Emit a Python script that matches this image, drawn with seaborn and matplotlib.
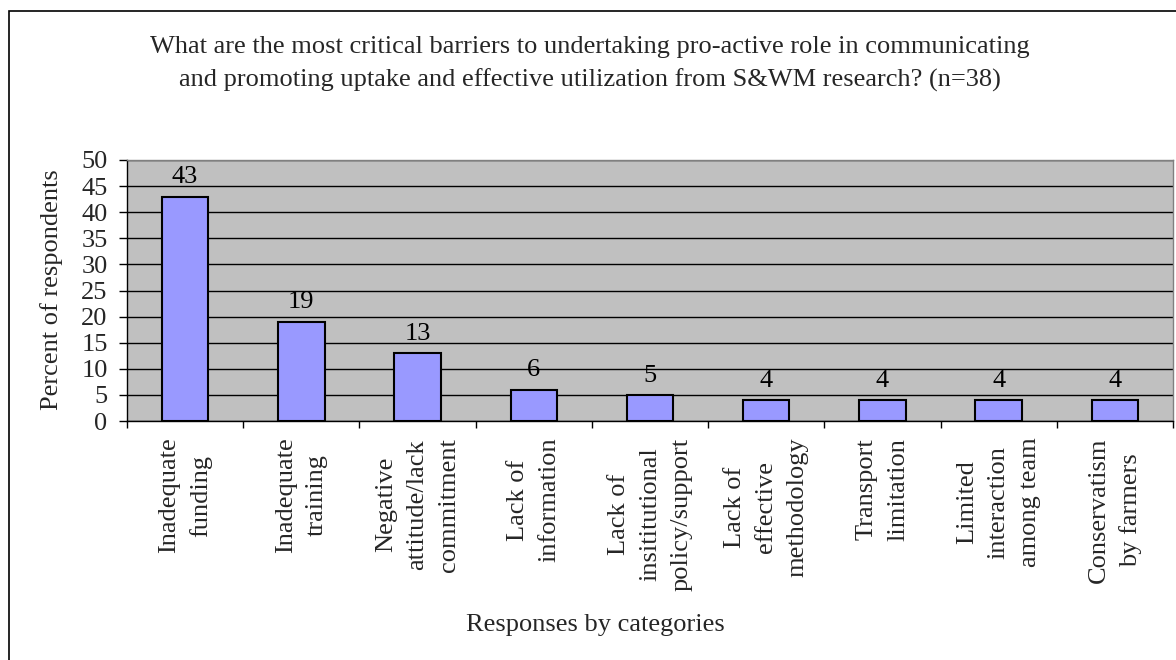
import matplotlib
matplotlib.use("Agg")
import matplotlib.pyplot as plt
import seaborn as sns
from matplotlib.patches import Rectangle
from matplotlib.ticker import MultipleLocator, FixedLocator

# Survey responses (n=38)
categories = [
    "Inadequate\nfunding",
    "Inadequate\ntraining",
    "Negative\nattitude/lack\ncommitment",
    "Lack of\ninformation",
    "Lack of\ninsititutional\npolicy/support",
    "Lack of\neffective\nmethodology",
    "Transport\nlimitation",
    "Limited\ninteraction\namong team",
    "Conservatism\nby farmers",
]
percent = [43, 19, 13, 6, 5, 4, 4, 4, 4]

title = ("What are the most critical barriers to undertaking pro-active role in communicating\n"
         "and promoting uptake and effective utilization from S&WM research? (n=38)")
y_label = "Percent of respondents"
x_label = "Responses by categories"

sns.set_theme(style="white")
plt.rcParams["font.family"] = ["Liberation Serif", "DejaVu Serif"]
FS = 19

W, H = 1176, 660
fig = plt.figure(figsize=(W / 100, H / 100), dpi=100)
fig.patch.set_facecolor("white")

ax = fig.add_axes([127 / W, 1 - 421 / H, (1173 - 127) / W, (421 - 160) / H])
ax.set_facecolor("#C0C0C0")

sns.barplot(x=categories, y=percent, color="#9999FF", edgecolor="black",
            linewidth=1.5, width=0.4, saturation=1, ax=ax, zorder=3)

ax.set_xlim(-0.5, len(categories) - 0.5)
ax.set_ylim(0, 50)
ax.yaxis.set_major_locator(MultipleLocator(5))
ax.yaxis.grid(True, color="black", linewidth=1.0, zorder=1)
ax.set_axisbelow(True)

# value labels above bars
for i, v in enumerate(percent):
    ax.annotate(str(v), (i, v), xytext=(0, 6), textcoords="offset points",
                ha="center", va="bottom", fontsize=FS, color="black")

# spines
for side in ("top", "right"):
    ax.spines[side].set_color("#808080")
    ax.spines[side].set_linewidth(1.0)
for side in ("left", "bottom"):
    ax.spines[side].set_color("black")
    ax.spines[side].set_linewidth(1.0)

# y ticks pointing out to the left
ax.tick_params(axis="y", which="major", direction="out", length=6, width=1,
               color="black", left=True, labelsize=FS, pad=8)

# x: category labels without ticks, tick marks at category boundaries
ax.set_xticks(range(len(categories)))
ax.set_xticklabels(categories, rotation=90, fontsize=FS, va="top", ha="center",
                   multialignment="center", linespacing=1.55)
ax.tick_params(axis="x", which="major", length=0, pad=12)
ax.xaxis.set_minor_locator(FixedLocator([i - 0.5 for i in range(len(categories) + 1)]))
ax.tick_params(axis="x", which="minor", direction="out", length=5, width=1,
               color="black", bottom=True)

ax.set_xlabel("")
ax.set_ylabel("")

fig.text(590 / W, 1 - 64 / H, title, ha="center", va="center", fontsize=FS,
         linespacing=1.55)
fig.text(52 / W, 1 - 290 / H, y_label, rotation=90, ha="center", va="center",
         fontsize=FS)
fig.text(595 / W, 1 - 625 / H, x_label, ha="center", va="center", fontsize=FS)

# outer chart frame
fig.patches.append(Rectangle((9 / W, -0.05), 1.2, 1 - 11 / H + 0.05,
                             transform=fig.transFigure, fill=False,
                             edgecolor="black", linewidth=1.2))

fig.savefig("out.png", dpi=100)
